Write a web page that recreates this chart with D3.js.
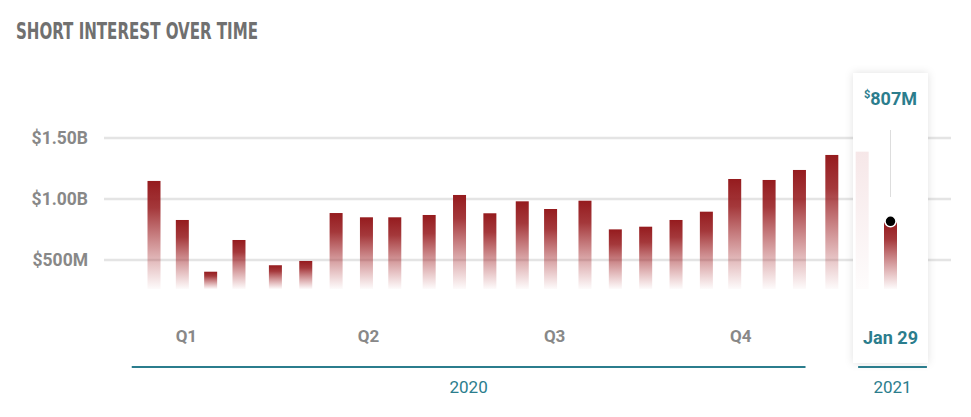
<!DOCTYPE html>
<html>
<head>
<meta charset="utf-8">
<script src="https://cdn.jsdelivr.net/npm/d3@7"></script>
<style>
  html, body { margin: 0; padding: 0; background: #fff; }
  svg { display: block; }
</style>
</head>
<body>
<svg id="chart" width="971" height="417"></svg>
<script>
// ---- data ----
const dates = ["2020-01-31","2020-02-14","2020-02-28","2020-03-13","2020-03-31","2020-04-15","2020-04-30",
  "2020-05-15","2020-05-29","2020-06-15","2020-06-30","2020-07-15","2020-07-31","2020-08-14","2020-08-31",
  "2020-09-15","2020-09-30","2020-10-15","2020-10-30","2020-11-13","2020-11-30","2020-12-15","2020-12-31",
  "2021-01-15","2021-01-29"];
const values = [1.148e9, 0.828e9, 0.404e9, 0.664e9, 0.457e9, 0.492e9, 0.885e9,
  0.850e9, 0.850e9, 0.869e9, 1.033e9, 0.883e9, 0.981e9, 0.918e9, 0.986e9,
  0.751e9, 0.773e9, 0.828e9, 0.896e9, 1.164e9, 1.156e9, 1.238e9, 1.361e9,
  1.388e9, 0.807e9];
const yTicks = [5e8, 1e9, 1.5e9];
const yTickLabels = ["$500M", "$1.00B", "$1.50B"];
const quarterLabels = ["Q1", "Q2", "Q3", "Q4"];
const quarterDates = ["2020-02-16", "2020-05-16", "2020-08-16", "2020-11-16"];
const yearLabels = ["2020", "2021"];
const yearStarts = ["2020-01-20", "2021-01-13"];
const yearEnds = ["2020-12-18", "2021-02-16"];
const activeIndex = 24;
const tooltipValue = "807M";
const tooltipDate = "Jan 29";

// ---- layout ----
const svg = d3.select("#chart");
const parse = d3.timeParse("%Y-%m-%d");
const teal = "#2b7d8d";
const grey = "#888888";
const x = d3.scaleTime().domain([parse(dates[0]), parse(dates[dates.length - 1])]).range([154, 890.5]);
const y = d3.scaleLinear().domain([0, 1.5e9]).range([321, 138]);
const barBottom = 289;
const barW = 13;

const defs = svg.append("defs");
const grad = defs.append("linearGradient").attr("id", "barGrad")
  .attr("x1", 0).attr("y1", 0).attr("x2", 0).attr("y2", 1);
grad.append("stop").attr("offset", "0%").attr("stop-color", "#951b1e").attr("stop-opacity", 1);
grad.append("stop").attr("offset", "25%").attr("stop-color", "#9a2225").attr("stop-opacity", 0.9);
grad.append("stop").attr("offset", "100%").attr("stop-color", "#b0353a").attr("stop-opacity", 0.02);

const gradFade = defs.append("linearGradient").attr("id", "barGradFade")
  .attr("x1", 0).attr("y1", 0).attr("x2", 0).attr("y2", 1);
gradFade.append("stop").attr("offset", "0%").attr("stop-color", "#c86a70").attr("stop-opacity", 0.16);
gradFade.append("stop").attr("offset", "100%").attr("stop-color", "#c86a70").attr("stop-opacity", 0.02);

const shadow = defs.append("filter").attr("id", "shadow")
  .attr("x", "-30%").attr("y", "-10%").attr("width", "160%").attr("height", "120%");
shadow.append("feDropShadow").attr("dx", 0).attr("dy", 0).attr("stdDeviation", 4)
  .attr("flood-color", "#000").attr("flood-opacity", 0.12);

// title
svg.append("text")
  .attr("x", 16).attr("y", 39)
  .attr("font-family", "'Liberation Sans Narrow', 'DejaVu Sans Condensed', sans-serif")
  .attr("font-weight", "bold")
  .attr("font-size", 23)
  .attr("fill", "#707070")
  .attr("textLength", 242)
  .attr("lengthAdjust", "spacingAndGlyphs")
  .text("SHORT INTEREST OVER TIME");

// gridlines
svg.append("g").selectAll("line").data(yTicks).join("line")
  .attr("x1", 104).attr("x2", 951)
  .attr("y1", d => y(d)).attr("y2", d => y(d))
  .attr("stroke", "#e4e4e4").attr("stroke-width", 2.5);

// y labels
svg.append("g").selectAll("text").data(yTicks).join("text")
  .attr("x", 88).attr("y", d => y(d) + 6)
  .attr("text-anchor", "end")
  .attr("font-family", "Roboto, sans-serif")
  .attr("font-weight", "bold").attr("font-size", 17.5)
  .attr("fill", grey)
  .text((d, i) => yTickLabels[i]);

// tooltip box (behind active bar)
const tipX = x(parse(dates[activeIndex]));
svg.append("rect")
  .attr("x", 853).attr("y", 73).attr("width", 75).attr("height", 290)
  .attr("fill", "#fff").attr("filter", "url(#shadow)");

// bars
const data = dates.map((d, i) => ({ date: parse(d), value: values[i], i }));
svg.append("g").selectAll("rect").data(data).join("rect")
  .attr("x", d => x(d.date) - barW / 2)
  .attr("y", d => y(d.value))
  .attr("width", barW)
  .attr("height", d => barBottom - y(d.value))
  .attr("fill", d => d.i === activeIndex - 1 ? "url(#barGradFade)" : "url(#barGrad)");

// tooltip contents
svg.append("line")
  .attr("x1", tipX).attr("x2", tipX).attr("y1", 130).attr("y2", 197)
  .attr("stroke", "#dddddd").attr("stroke-width", 1);
svg.append("circle")
  .attr("cx", tipX).attr("cy", y(values[activeIndex]) - 1.2).attr("r", 5.5)
  .attr("fill", "#000").attr("stroke", "#fff").attr("stroke-width", 1.5);

const vt = svg.append("text")
  .attr("x", tipX).attr("y", 105)
  .attr("text-anchor", "middle")
  .attr("font-family", "Roboto, sans-serif").attr("font-weight", "bold")
  .attr("fill", teal);
vt.append("tspan").attr("font-size", 11).attr("dy", -7).text("$");
vt.append("tspan").attr("font-size", 18).attr("dy", 7).text(tooltipValue);

svg.append("text")
  .attr("x", tipX).attr("y", 344)
  .attr("text-anchor", "middle")
  .attr("font-family", "Roboto, sans-serif").attr("font-weight", "bold")
  .attr("font-size", 18).attr("fill", teal)
  .text(tooltipDate);

// quarter labels
svg.append("g").selectAll("text").data(quarterLabels).join("text")
  .attr("x", (d, i) => x(parse(quarterDates[i])))
  .attr("y", 342)
  .attr("text-anchor", "middle")
  .attr("font-family", "Roboto, sans-serif").attr("font-weight", "bold")
  .attr("font-size", 17).attr("fill", grey)
  .text(d => d);

// year segments
const years = yearLabels.map((l, i) => ({ label: l, x0: x(parse(yearStarts[i])), x1: x(parse(yearEnds[i])) }));
svg.append("g").selectAll("line").data(years).join("line")
  .attr("x1", d => d.x0).attr("x2", d => d.x1)
  .attr("y1", 367).attr("y2", 367)
  .attr("stroke", teal).attr("stroke-width", 2);
svg.append("g").selectAll("text").data(years).join("text")
  .attr("x", d => (d.x0 + d.x1) / 2)
  .attr("y", 393)
  .attr("text-anchor", "middle")
  .attr("font-family", "Roboto, sans-serif")
  .attr("font-size", 17).attr("fill", teal)
  .text(d => d.label);
</script>
</body>
</html>
